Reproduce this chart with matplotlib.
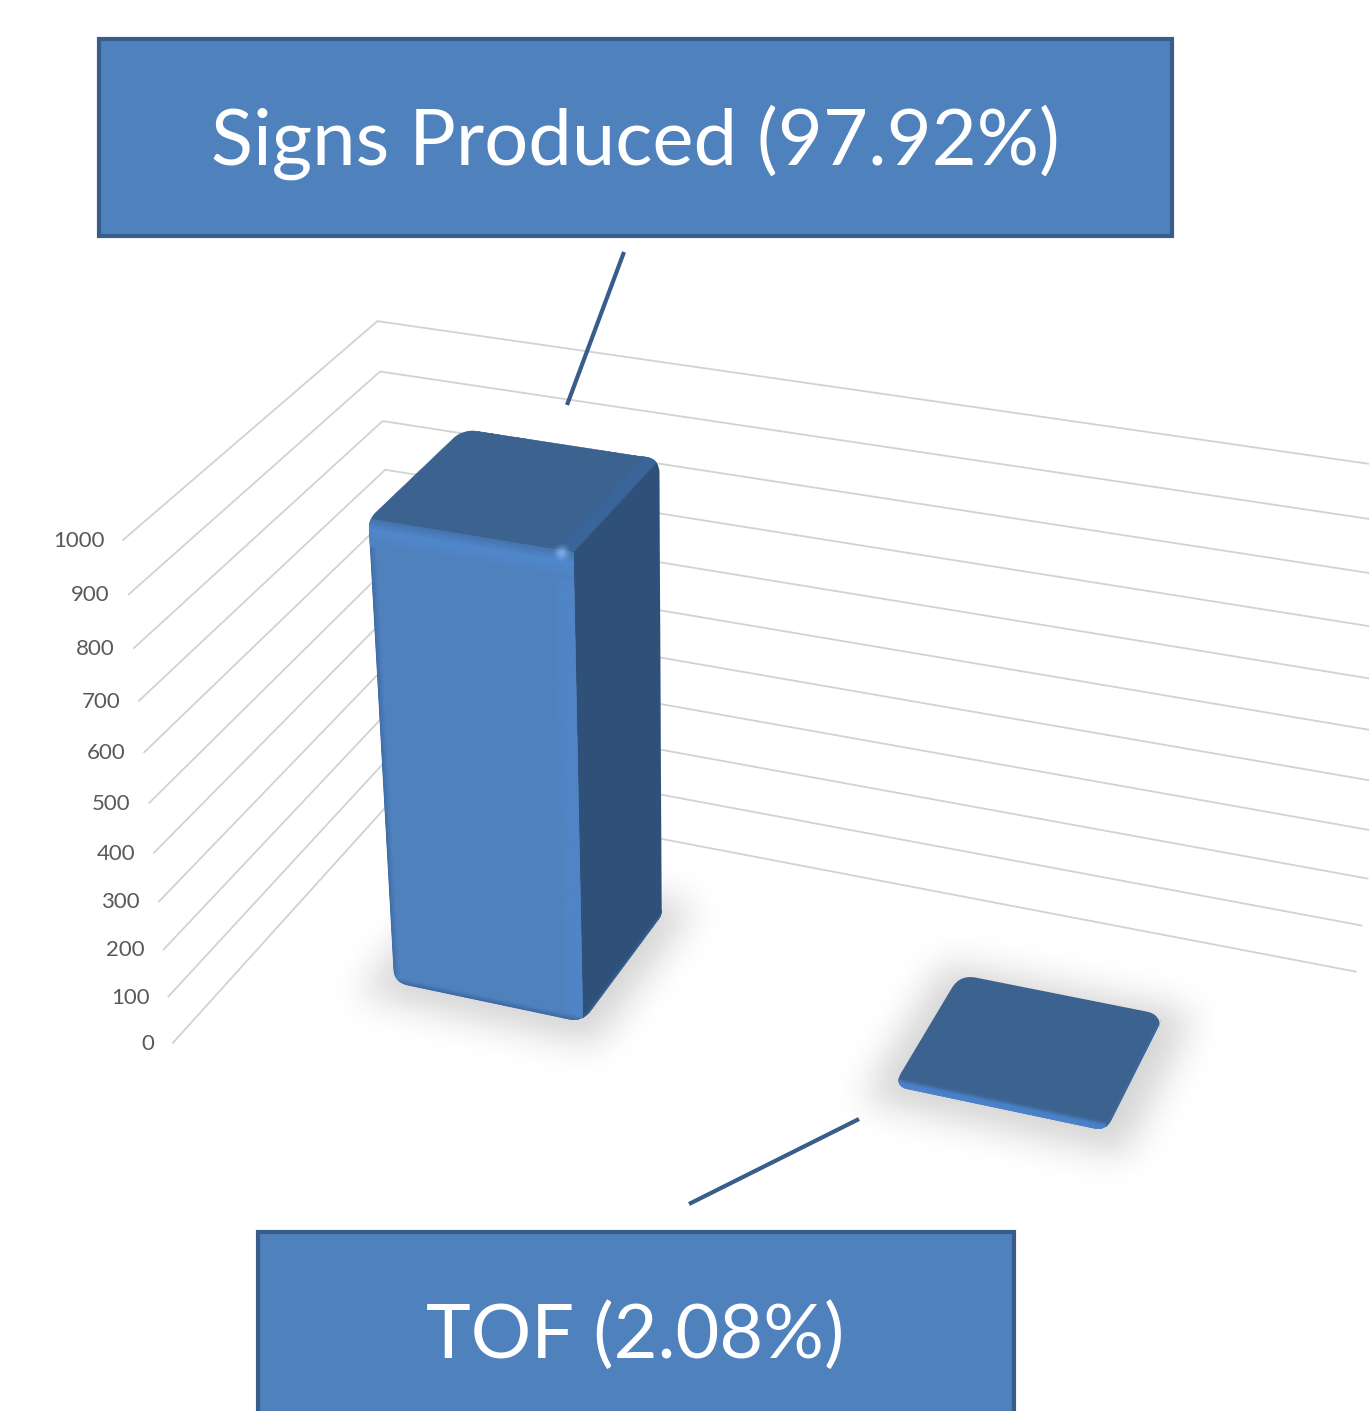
"""3D bar chart with callouts: signs produced vs TOF, drawn through a small camera model."""
import numpy as np
import matplotlib
matplotlib.use("Agg")
import matplotlib.pyplot as plt
from matplotlib.collections import PolyCollection
from matplotlib.colors import to_rgb
from matplotlib.patches import PathPatch, Rectangle
from matplotlib.path import Path

W, H = 1369, 1411
DPI = 100

CATEGORIES = ["Signs Produced", "TOF"]
VALUES = [940, 20]
TICKS = [0, 100, 200, 300, 400, 500, 600, 700, 800, 900, 1000]

BAR_X = [(0.30, 0.69), (1.31, 1.70)]  # category axis, 2 categories
BAR_Y = [(0.33, 0.73), (0.335, 0.70)]  # depth axis, 0 front, 1 back

# camera calibration: (category, depth, value) of the chart box -> pixel
BOX_CORNERS = [(0, 0, 0), (0, 0, 1000), (0, 1, 1000), (0, 1, 0),
               (2, 1, 0), (2, 1, 1000), (2, 0, 0)]
BOX_PIXELS = [(175, 1041), (127, 531), (373, 321), (401, 798),
              (1360, 954), (1420, 480), (1218, 1287)]

FRONT = "#4f81bd"
TOP = "#3c6290"
SIDE = "#2f5078"
BORDER = "#385d8a"
GRID = "#d2d2d2"
TICK_TEXT = "#595959"


def calibrate():
    rows = []
    for (x, y, z), (u, v) in zip(BOX_CORNERS, BOX_PIXELS):
        z, u, v = z / 1000, u / 1000, v / 1000
        rows.append([x, y, z, 1, 0, 0, 0, 0, -u * x, -u * y, -u * z, -u])
        rows.append([0, 0, 0, 0, x, y, z, 1, -v * x, -v * y, -v * z, -v])
    return np.linalg.svd(np.array(rows))[2][-1].reshape(3, 4)


CAM = calibrate()


def project(x, y, z):
    p = CAM @ np.array([x, y, z / 1000, 1.0])
    return p[:2] / p[2] * 1000


def rounded_path(points, radii):
    points = [np.asarray(p, float) for p in points]
    n = len(points)
    verts, codes = [], []
    for i, p in enumerate(points):
        a, b = points[i - 1], points[(i + 1) % n]
        r = radii[i]
        start = p + (a - p) / np.linalg.norm(a - p) * r
        end = p + (b - p) / np.linalg.norm(b - p) * r
        verts += [start, p, end]
        codes += [Path.MOVETO if i == 0 else Path.LINETO, Path.CURVE3, Path.CURVE3]
    verts.append(verts[0])
    codes.append(Path.CLOSEPOLY)
    return Path(verts, codes)


def band(ax, clip, a0, a1, b0, b1, stops, steps=24):
    """Colour ramp across a quad, from edge a0-a1 to edge b0-b1."""
    ts = np.linspace(0, 1, steps + 1)
    st = [s[0] for s in stops]
    rgb = np.array([to_rgb(s[1]) for s in stops])
    a0, a1, b0, b1 = map(np.asarray, (a0, a1, b0, b1))
    polys, cols = [], []
    for t0, t1 in zip(ts[:-1], ts[1:]):
        polys.append([a0 + (b0 - a0) * t0, a1 + (b1 - a1) * t0,
                      a1 + (b1 - a1) * t1, a0 + (b0 - a0) * t1])
        tm = (t0 + t1) / 2
        cols.append([np.interp(tm, st, rgb[:, c]) for c in range(3)])
    pc = PolyCollection(polys, facecolors=cols, edgecolors=cols, linewidths=0.4, zorder=5)
    ax.add_collection(pc)
    pc.set_clip_path(clip)


def soft_shadow(ax, polygon, sigma, alpha):
    polygon = np.asarray(polygon)
    pad = int(sigma * 4)
    x0, y0 = np.floor(polygon.min(axis=0)).astype(int) - pad
    x1, y1 = np.ceil(polygon.max(axis=0)).astype(int) + pad
    xx, yy = np.meshgrid(np.arange(x0, x1), np.arange(y0, y1))
    mask = np.ones(xx.shape, bool)
    centre = polygon.mean(axis=0)
    for p, q in zip(polygon, np.roll(polygon, -1, axis=0)):
        side = lambda a, b: (q[0] - p[0]) * (b - p[1]) - (q[1] - p[1]) * (a - p[0])
        mask &= side(xx, yy) * side(*centre) >= 0
    kx = np.arange(-pad, pad + 1)
    kernel = np.exp(-kx ** 2 / (2 * sigma ** 2))
    kernel /= kernel.sum()
    blur = np.apply_along_axis(np.convolve, 0, mask.astype(float), kernel, "same")
    blur = np.apply_along_axis(np.convolve, 1, blur, kernel, "same")
    rgba = np.zeros(blur.shape + (4,))
    rgba[..., 3] = blur * alpha
    ax.imshow(rgba, extent=(x0, x1, y1, y0), zorder=3, interpolation="bilinear", aspect="auto")


def draw_tall_bar(ax, xr, yr, value):
    x0, x1 = xr
    y0, y1 = yr
    tfl, tfr = project(x0, y0, value), project(x1, y0, value)
    tbl, tbr = project(x0, y1, value), project(x1, y1, value)
    bfl, bfr, bbr = project(x0, y0, 0), project(x1, y0, 0), project(x1, y1, 0)
    sil = rounded_path([tbl, tbr, bbr, bfr, bfl, tfl], [16, 14, 4, 14, 14, 12])
    clip = PathPatch(sil, fc="none", ec="none", transform=ax.transData)
    ax.add_patch(clip)

    band(ax, clip, tfl, tfr, tbl, tbr, [(0, TOP), (1, TOP)], steps=1)
    band(ax, clip, tfr, tbr, tfr + (tfl - tfr) * 0.09, tbr + (tbl - tbr) * 0.09,
         [(0, "#3a669c"), (0.75, "#3a669c"), (1, TOP)], steps=12)
    band(ax, clip, tfr, tbr, bfr, bbr, [(0, SIDE), (1, SIDE)], steps=1)
    band(ax, clip, bfr, bbr, bfr + (tfr - bfr) * 0.012, bbr + (tbr - bbr) * 0.012,
         [(0, "#3d6aa3"), (1, SIDE)], steps=6)
    band(ax, clip, tfl, tfr, bfl, bfr, [(0, FRONT), (1, FRONT)], steps=1)
    band(ax, clip, bfr, tfr, bfr + (bfl - bfr) * 0.11, tfr + (tfl - tfr) * 0.11,
         [(0, "#4f85c8"), (0.55, "#4f85c6"), (1, FRONT)], steps=14)
    band(ax, clip, bfl, tfl, bfl + (bfr - bfl) * 0.03, tfl + (tfr - tfl) * 0.03,
         [(0, "#3d6aa3"), (1, FRONT)], steps=6)
    band(ax, clip, bfl, bfr, bfl + (tfl - bfl) * 0.012, bfr + (tfr - bfr) * 0.012,
         [(0, "#3a659e"), (1, FRONT)], steps=6)
    band(ax, clip, tfl, tfr, tfl + (bfl - tfl) * 0.06, tfr + (bfr - tfr) * 0.06,
         [(0, "#4472ab"), (0.4, "#5088cd"), (1, FRONT)], steps=16)

    spot = tfr + (tfl - tfr) * 0.055 + (bfr - tfr) * 0.005
    for r, a in zip([9, 7, 5, 3], [0.10, 0.15, 0.22, 0.3]):
        dot = plt.Circle(spot, r, fc="#9cc8ff", ec="none", alpha=a, zorder=6)
        ax.add_patch(dot)


def draw_flat_bar(ax, xr, yr, value):
    x0, x1 = xr
    y0, y1 = yr
    tfl, tfr = project(x0, y0, value), project(x1, y0, value)
    tbl, tbr = project(x0, y1, value), project(x1, y1, value)
    bfl, bfr, bbr = project(x0, y0, 0), project(x1, y0, 0), project(x1, y1, 0)
    sil = rounded_path([tbl, tbr, bbr, bfr, bfl, tfl], [16, 14, 5, 12, 9, 5])
    clip = PathPatch(sil, fc=TOP, ec="none", transform=ax.transData, zorder=4)
    ax.add_patch(clip)
    band(ax, clip, bfl, bfr, tfl, tfr, [(0, "#4a86d4"), (0.6, "#4a80c4"), (1, TOP)], steps=8)
    band(ax, clip, bfr, bbr, tfr, tbr, [(0, "#3f6ea8"), (1, TOP)], steps=4)


def main():
    fig = plt.figure(figsize=(W / DPI, H / DPI), dpi=DPI)
    ax = fig.add_axes([0, 0, 1, 1])

    # walls
    for z in TICKS:
        line = np.array([project(0, 0, z), project(0, 1, z), project(2, 1, z)])
        ax.plot(line[:, 0], line[:, 1], color=GRID, lw=1.3, solid_joinstyle="miter", zorder=1)
        u, v = project(0, 0, z)
        ax.text(u - 19, v + 1, str(z), ha="right", va="center", fontsize=16,
                family="Lato", color=TICK_TEXT, zorder=2)

    # shadows, then bars
    for xr, yr in zip(BAR_X, BAR_Y):
        floor = [project(xr[0] - 0.05, yr[0] - 0.06, 0), project(xr[1] + 0.05, yr[0] - 0.06, 0),
                 project(xr[1] + 0.05, yr[1] + 0.06, 0), project(xr[0] - 0.05, yr[1] + 0.06, 0)]
        soft_shadow(ax, floor, 18, 0.17)
    draw_tall_bar(ax, BAR_X[0], BAR_Y[0], VALUES[0])
    draw_flat_bar(ax, BAR_X[1], BAR_Y[1], VALUES[1])

    # callouts
    total = sum(VALUES)
    boxes = [(99, 39, 1073, 197, 635, 165, 56), (258, 1232, 756, 197, 635, 1358, 54.5)]
    for name, value, (bx, by, bw, bh, tx, ty, size) in zip(CATEGORIES, VALUES, boxes):
        ax.add_patch(Rectangle((bx, by), bw, bh, fc=FRONT, ec=BORDER, lw=3, zorder=7))
        ax.text(tx, ty, f"{name} ({value / total:.2%})", ha="center", va="baseline",
                color="white", fontsize=size, family="Lato", zorder=8)
    ax.plot([624, 567], [252, 405], color=BORDER, lw=3, zorder=6, solid_capstyle="butt")
    ax.plot([859, 689], [1119, 1204], color=BORDER, lw=3, zorder=6, solid_capstyle="butt")

    ax.set_xlim(0, W)
    ax.set_ylim(H, 0)
    ax.axis("off")
    fig.savefig("out.png", dpi=DPI, facecolor="white")
    plt.close(fig)


if __name__ == "__main__":
    main()
